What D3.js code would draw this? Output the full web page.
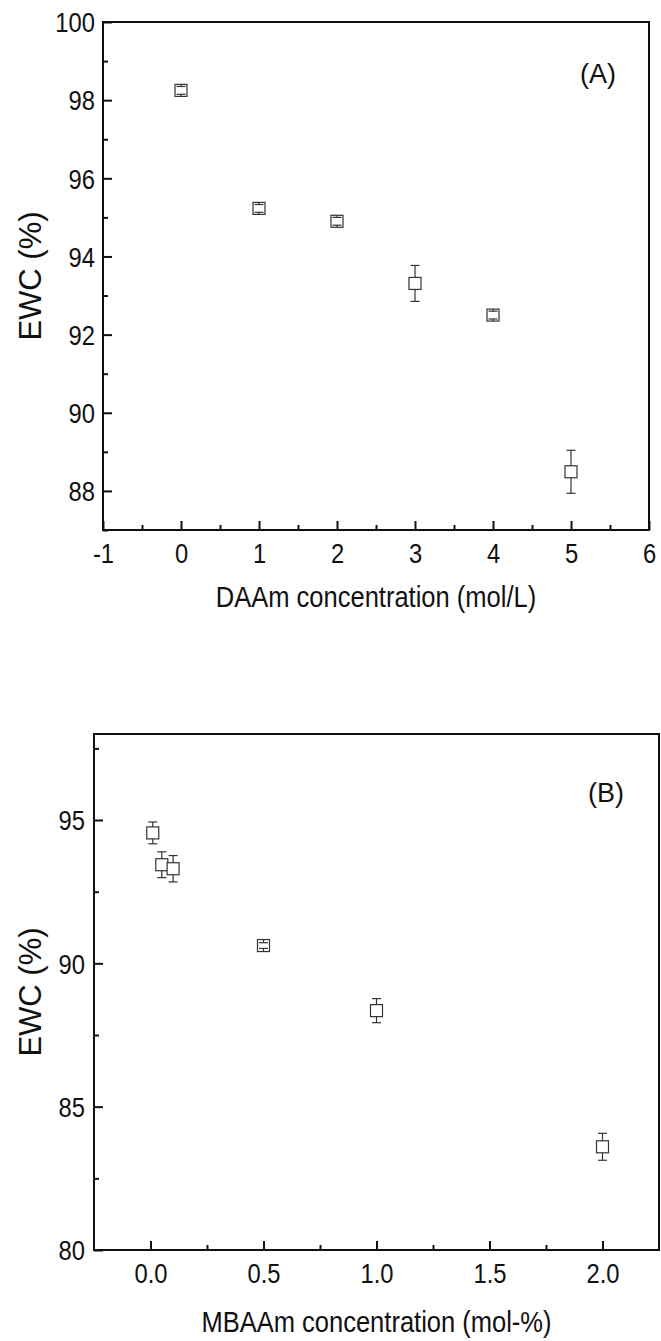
<!DOCTYPE html>
<html lang="en">
  <head>
    <meta charset="utf-8" />
    <title>EWC vs concentration</title>
    <style>
      body { margin: 0; background: #fff; }
      svg text { font-family: "Liberation Sans", Arial, sans-serif; fill: #111; }
    </style>
  </head>
  <body>
    <svg id="chart" width="661" height="1341"></svg>
    <script src="https://d3js.org/d3.v7.min.js"></script>
    <script>
      // Panel A: DAAm concentration
      const daamX = [0, 1, 2, 3, 4, 5];
      const daamEWC = [98.25, 95.23, 94.9, 93.31, 92.5, 88.49];
      const daamErr = [0.1, 0.1, 0.1, 0.46, 0.1, 0.55];
      const daamXTicks = [-1, 0, 1, 2, 3, 4, 5, 6];
      const daamXMinor = [-0.5, 0.5, 1.5, 2.5, 3.5, 4.5, 5.5];
      const daamYTicks = [88, 90, 92, 94, 96, 98, 100];
      const daamYMinor = [87, 89, 91, 93, 95, 97, 99];

      // Panel B: MBAAm concentration
      const mbaamX = [0.01, 0.05, 0.1, 0.5, 1.0, 2.0];
      const mbaamEWC = [94.55, 93.44, 93.3, 90.62, 88.35, 83.6];
      const mbaamErr = [0.38, 0.45, 0.46, 0.1, 0.42, 0.47];
      const mbaamXTicks = [0, 0.5, 1, 1.5, 2];
      const mbaamXMinor = [0.25, 0.75, 1.25, 1.75];
      const mbaamYTicks = [80, 85, 90, 95];
      const mbaamYMinor = [82.5, 87.5, 92.5, 97.5];

      var svg = d3.select("#chart");
      var squeeze = 0.88; // the original font is a bit narrow

      function drawPanel(opt) {
        var g = svg.append("g");
        var x = d3.scaleLinear().domain(opt.xDomain).range([opt.left, opt.right]);
        var y = d3.scaleLinear().domain(opt.yDomain).range([opt.bottom, opt.top]);

        // frame
        g.append("rect")
          .attr("x", opt.left)
          .attr("y", opt.top)
          .attr("width", opt.right - opt.left)
          .attr("height", opt.bottom - opt.top)
          .attr("fill", "none")
          .attr("stroke", "#111")
          .attr("stroke-width", 2);

        // x axis, ticks pointing inward
        var xAxis = g.append("g")
          .attr("transform", "translate(0," + opt.bottom + ")")
          .call(d3.axisBottom(x).tickValues(opt.xTicks).tickSize(-9).tickFormat(opt.xFormat));
        xAxis.select(".domain").remove();
        xAxis.selectAll("line").attr("stroke", "#111").attr("stroke-width", 2);
        xAxis.selectAll("text")
          .attr("font-size", 27)
          .attr("fill", "#111")
          .attr("y", 33)
          .attr("dy", 0)
          .attr("transform", "scale(" + squeeze + ",1)");

        var xMin = g.append("g")
          .attr("transform", "translate(0," + opt.bottom + ")")
          .call(d3.axisBottom(x).tickValues(opt.xMinor).tickSize(-5).tickFormat(""));
        xMin.select(".domain").remove();
        xMin.selectAll("line").attr("stroke", "#111").attr("stroke-width", 2);

        // y axis
        var yAxis = g.append("g")
          .attr("transform", "translate(" + opt.left + ",0)")
          .call(d3.axisLeft(y).tickValues(opt.yTicks).tickSize(-9));
        yAxis.select(".domain").remove();
        yAxis.selectAll("line").attr("stroke", "#111").attr("stroke-width", 2);
        yAxis.selectAll("text")
          .attr("font-size", 27)
          .attr("fill", "#111")
          .attr("x", -opt.yLabelGap / squeeze)
          .attr("dy", "0.36em")
          .attr("transform", "scale(" + squeeze + ",1)");

        var yMin = g.append("g")
          .attr("transform", "translate(" + opt.left + ",0)")
          .call(d3.axisLeft(y).tickValues(opt.yMinor).tickSize(-5).tickFormat(""));
        yMin.select(".domain").remove();
        yMin.selectAll("line").attr("stroke", "#111").attr("stroke-width", 2);

        // axis titles
        g.append("text")
          .attr("transform", "scale(" + squeeze + ",1)")
          .attr("x", (opt.left + opt.right) / 2 / squeeze)
          .attr("y", opt.bottom + opt.titleGap)
          .attr("text-anchor", "middle")
          .attr("font-size", 29)
          .text(opt.xTitle);

        g.append("text")
          .attr("transform", "translate(41," + (opt.top + opt.bottom) / 2 + ") rotate(-90)")
          .attr("text-anchor", "middle")
          .attr("font-size", 31)
          .text("EWC (%)");

        // panel label
        g.append("text")
          .attr("x", opt.labelX)
          .attr("y", opt.labelY)
          .attr("text-anchor", "middle")
          .attr("font-size", 27)
          .text(opt.label);

        var pts = opt.xs.map(function (v, i) {
          return { x: v, y: opt.ys[i], e: opt.errs[i] };
        });
        var half = 6;

        var mk = g.append("g").attr("stroke", "#333").attr("stroke-width", 1.2);

        mk.selectAll("rect.pt")
          .data(pts)
          .join("rect")
          .attr("class", "pt")
          .attr("x", (d) => x(d.x) - half)
          .attr("y", (d) => y(d.y) - half)
          .attr("width", half * 2)
          .attr("height", half * 2)
          .attr("fill", "#fff");

        // error bars: from the marker edge out to the caps
        mk.selectAll("line.up")
          .data(pts)
          .join("line")
          .attr("class", "up")
          .attr("x1", (d) => x(d.x))
          .attr("x2", (d) => x(d.x))
          .attr("y1", (d) => y(d.y) - half)
          .attr("y2", (d) => y(d.y + d.e));
        mk.selectAll("line.down")
          .data(pts)
          .join("line")
          .attr("class", "down")
          .attr("x1", (d) => x(d.x))
          .attr("x2", (d) => x(d.x))
          .attr("y1", (d) => y(d.y) + half)
          .attr("y2", (d) => y(d.y - d.e));
        mk.selectAll("line.capTop")
          .data(pts)
          .join("line")
          .attr("class", "capTop")
          .attr("x1", (d) => x(d.x) - 4.5)
          .attr("x2", (d) => x(d.x) + 4.5)
          .attr("y1", (d) => y(d.y + d.e))
          .attr("y2", (d) => y(d.y + d.e));
        mk.selectAll("line.capBot")
          .data(pts)
          .join("line")
          .attr("class", "capBot")
          .attr("x1", (d) => x(d.x) - 4.5)
          .attr("x2", (d) => x(d.x) + 4.5)
          .attr("y1", (d) => y(d.y - d.e))
          .attr("y2", (d) => y(d.y - d.e));
      }

      drawPanel({
        left: 103, right: 649, top: 22, bottom: 530,
        xDomain: [-1, 6], yDomain: [87, 100],
        xTicks: daamXTicks, xMinor: daamXMinor,
        yTicks: daamYTicks, yMinor: daamYMinor,
        xFormat: (d) => (d < 0 ? "-" + Math.abs(d) : String(d)),
        yLabelGap: 8,
        xTitle: "DAAm concentration (mol/L)",
        titleGap: 77,
        label: "(A)", labelX: 598, labelY: 83,
        xs: daamX, ys: daamEWC, errs: daamErr
      });

      drawPanel({
        left: 94, right: 659, top: 734, bottom: 1250,
        xDomain: [-0.25, 2.25], yDomain: [80, 98],
        xTicks: mbaamXTicks, xMinor: mbaamXMinor,
        yTicks: mbaamYTicks, yMinor: mbaamYMinor,
        xFormat: d3.format(".1f"),
        yLabelGap: 9,
        xTitle: "MBAAm concentration (mol-%)",
        titleGap: 82,
        label: "(B)", labelX: 606, labelY: 802,
        xs: mbaamX, ys: mbaamEWC, errs: mbaamErr
      });
    </script>
  </body>
</html>
